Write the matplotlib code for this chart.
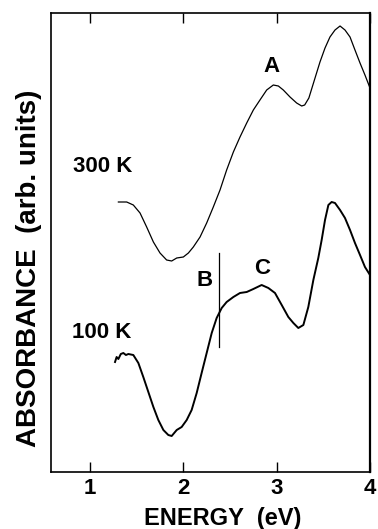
import matplotlib
matplotlib.use("Agg")
import matplotlib.pyplot as plt

plt.rcParams['font.family'] = ['Liberation Sans', 'DejaVu Sans']
plt.rcParams['font.weight'] = 'bold'

# --- data (energy in eV, absorbance in arb. units) ---
e_300 = [1.304, 1.393, 1.464, 1.536, 1.607, 1.679, 1.75, 1.821, 1.875, 1.929,
         2.0, 2.054, 2.107, 2.179, 2.25, 2.321, 2.393, 2.464, 2.536, 2.607,
         2.679, 2.75, 2.821, 2.893, 2.964, 3.018, 3.071, 3.143, 3.214, 3.268,
         3.30, 3.345, 3.411, 3.464, 3.518, 3.571, 3.625, 3.679, 3.732, 3.786,
         3.839, 3.893, 3.946, 4.0]
a_300 = [2.70, 2.70, 2.67, 2.59, 2.45, 2.30, 2.19, 2.12, 2.11, 2.14,
         2.15, 2.19, 2.25, 2.35, 2.49, 2.65, 2.82, 3.02, 3.20, 3.35,
         3.49, 3.62, 3.72, 3.82, 3.87, 3.86, 3.82, 3.75, 3.69, 3.66,
         3.67, 3.74, 3.94, 4.10, 4.24, 4.35, 4.42, 4.46, 4.42, 4.35,
         4.22, 4.09, 3.97, 3.84]

e_100 = [1.268, 1.285, 1.304, 1.33, 1.357, 1.385, 1.411, 1.464, 1.518, 1.571,
         1.625, 1.679, 1.732, 1.786, 1.839, 1.875, 1.929, 1.982, 2.036, 2.089,
         2.143, 2.196, 2.25, 2.304, 2.357, 2.411, 2.464, 2.536, 2.607, 2.679,
         2.75, 2.839, 2.911, 2.982, 3.054, 3.125, 3.179, 3.232, 3.286, 3.339,
         3.393, 3.446, 3.482, 3.518, 3.554, 3.589, 3.625, 3.679, 3.732, 3.786,
         3.839, 3.893, 3.946, 4.0]
a_100 = [1.10, 1.15, 1.13, 1.18, 1.19, 1.17, 1.18, 1.17, 1.09, 0.95,
         0.80, 0.65, 0.52, 0.42, 0.37, 0.36, 0.42, 0.45, 0.52, 0.62,
         0.79, 0.99, 1.19, 1.39, 1.54, 1.64, 1.70, 1.75, 1.79, 1.80,
         1.83, 1.87, 1.84, 1.79, 1.67, 1.55, 1.49, 1.44, 1.47, 1.65,
         1.92, 2.14, 2.32, 2.52, 2.67, 2.70, 2.69, 2.62, 2.54, 2.42,
         2.29, 2.17, 2.05, 1.97]

b_energy = 2.386
b_range = [1.25, 2.19]

labels = [("A", 2.945, 4.00), ("300 K", 1.134, 3.00), ("B", 2.232, 1.86),
          ("C", 2.843, 1.98), ("100 K", 1.123, 1.34)]

fig = plt.figure(figsize=(3.78, 5.29), dpi=100)
ax = fig.add_axes([51 / 378, 57 / 529, 319 / 378, 459 / 529])

ax.plot(e_300, a_300, color='black', lw=0.9)
ax.plot(e_100, a_100, color='black', lw=1.4)
ax.plot([b_energy, b_energy], b_range, color='black', lw=0.9)

for txt, x, y in labels:
    ax.text(x, y, txt, ha='center', va='baseline', fontsize=16, fontweight='bold')

ax.set_xlim(0.582, 4.0)
ax.set_ylim(0, 4.59)
ax.set_xticks([1, 2, 3, 4])
ax.set_yticks([])
ax.tick_params(axis='x', direction='in', length=7.5, width=1.0, top=True,
               labelsize=16, pad=4)
for lab in ax.get_xticklabels():
    lab.set_fontweight('bold')
for sp in ax.spines.values():
    sp.set_linewidth(1.2)
ax.spines['right'].set_linewidth(1.6)

fig.text(223 / 378, 1 - 518.7 / 529, "ENERGY  (eV)", ha='center', va='center',
         fontsize=17, fontweight='bold')
fig.text(29 / 378, 1 - 268.5 / 529, "ABSORBANCE  (arb. units)", ha='center',
         va='center', rotation=90, fontsize=20, fontweight='bold')

fig.savefig("out.png", dpi=100)
